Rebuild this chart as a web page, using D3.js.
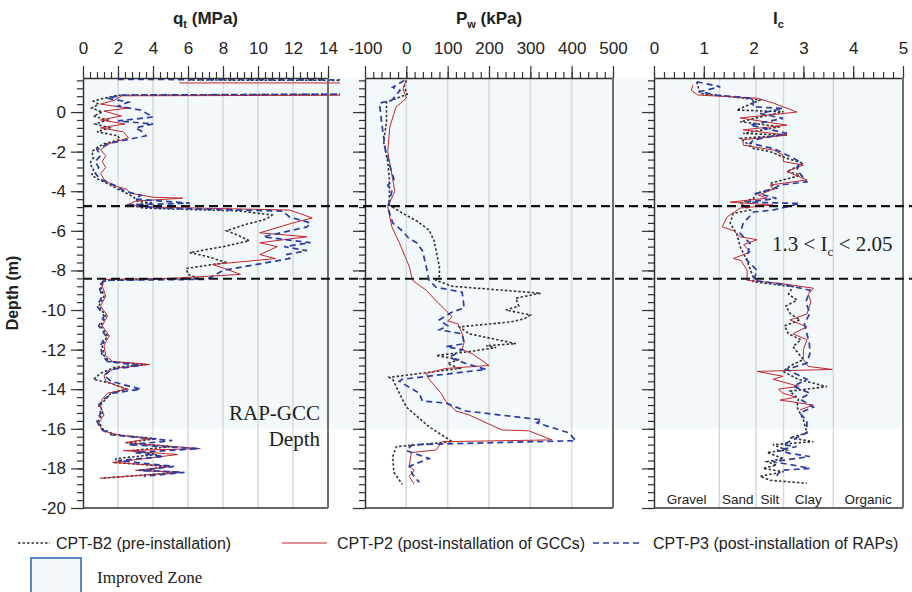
<!DOCTYPE html>
<html>
<head>
<meta charset="utf-8">
<script src="https://cdn.jsdelivr.net/npm/d3@7/dist/d3.min.js"></script>
<style>
  body { margin: 0; background: #fff; }
  text { font-family: "Liberation Sans", Arial, sans-serif; fill: #222; }
  .serif { font-family: "Liberation Serif", "Times New Roman", serif; }
</style>
</head>
<body>
<svg id="chart" width="912" height="592"></svg>
<script>
// ---- data: [depth (m), value] ----
const qtB2 = [[1.62,6.0],[1.6,15],[0.9,15],[0.85,2.0],[0.7,1.2],[0.55,0.6],[0.4,0.9],[0.2,0.5],[0.0,1.1],[-0.2,0.6],[-0.4,1.4],[-0.6,0.7],[-0.8,1.5],[-1.0,0.8],[-1.2,2.0],[-1.4,2.1],[-1.6,1.2],[-1.8,0.8],[-2.0,0.5],[-2.3,0.6],[-2.6,0.4],[-2.9,0.6],[-3.2,0.5],[-3.4,0.9],[-3.7,1.6],[-3.9,2.0],[-4.1,2.5],[-4.3,2.9],[-4.5,3.1],[-4.6,4.0],[-4.7,2.6],[-4.85,3.5],[-5.0,9.0],[-5.2,10.8],[-5.4,10.5],[-5.7,9.2],[-6.0,8.2],[-6.2,8.8],[-6.5,9.5],[-6.8,8.0],[-7.1,6.1],[-7.3,7.1],[-7.6,8.2],[-7.9,5.9],[-8.2,6.0],[-8.4,6.6],[-8.5,1.3],[-8.8,1.0],[-9.3,1.2],[-9.8,0.9],[-10.3,1.3],[-10.8,1.0],[-11.3,1.4],[-11.8,1.1],[-12.3,1.2],[-12.6,1.5],[-12.75,3.6],[-12.9,1.8],[-13.2,1.0],[-13.5,0.6],[-13.7,1.6],[-14.0,2.5],[-14.2,1.6],[-14.5,1.3],[-14.8,1.0],[-15.2,1.1],[-15.6,0.9],[-16.0,1.1],[-16.3,1.8],[-16.5,4.2],[-16.7,2.5],[-16.9,5.0],[-17.1,2.8],[-17.3,4.2],[-17.5,1.9],[-17.7,1.8],[-17.9,4.8],[-18.1,3.5],[-18.2,5.5],[-18.5,1.0]];
const qtP2 = [[1.47,5.5],[1.47,15],[0.85,15],[0.82,2.2],[0.6,1.8],[0.4,1.0],[0.2,2.6],[0.05,1.2],[-0.2,2.2],[-0.4,1.0],[-0.6,2.4],[-0.8,1.0],[-1.0,2.3],[-1.3,2.6],[-1.6,1.5],[-1.9,1.0],[-2.2,1.3],[-2.5,1.1],[-2.8,1.3],[-3.1,1.0],[-3.4,1.2],[-3.7,1.7],[-3.9,2.5],[-4.1,2.7],[-4.3,4.0],[-4.35,5.7],[-4.5,3.0],[-4.7,2.5],[-4.8,4.0],[-4.95,11.8],[-5.1,12.3],[-5.35,13.1],[-5.6,12.0],[-6.1,10.1],[-6.3,12.8],[-6.6,10.1],[-6.8,11.1],[-7.2,10.1],[-7.4,11.0],[-7.7,7.4],[-8.0,8.4],[-8.2,9.0],[-8.4,5.0],[-8.45,1.2],[-8.8,1.1],[-9.3,1.3],[-9.8,1.0],[-10.3,1.4],[-10.8,1.1],[-11.3,1.5],[-11.8,1.2],[-12.3,1.3],[-12.6,1.7],[-12.75,3.8],[-12.95,1.8],[-13.3,1.2],[-13.6,1.3],[-14.0,2.5],[-14.2,1.4],[-14.5,1.1],[-14.9,1.0],[-15.3,1.2],[-15.7,0.9],[-16.1,1.1],[-16.3,2.0],[-16.5,3.8],[-16.7,2.4],[-17.0,6.7],[-17.1,2.3],[-17.3,5.4],[-17.7,1.7],[-17.9,5.1],[-18.1,3.0],[-18.2,5.6],[-18.5,1.0]];
const qtP3 = [[1.65,2.0],[1.62,15],[0.9,15],[0.86,2.3],[0.7,1.4],[0.5,2.6],[0.3,2.0],[0.1,3.3],[-0.25,4.0],[-0.45,2.0],[-0.6,4.0],[-0.8,3.0],[-1.0,3.4],[-1.2,3.6],[-1.4,2.5],[-1.6,1.4],[-1.9,0.8],[-2.2,1.0],[-2.5,0.7],[-2.8,0.9],[-3.1,0.7],[-3.4,1.0],[-3.7,1.8],[-4.0,2.4],[-4.2,3.3],[-4.4,3.0],[-4.6,6.1],[-4.7,2.4],[-4.85,4.5],[-5.0,11.4],[-5.3,11.8],[-5.6,13.0],[-5.8,12.8],[-6.3,10.3],[-6.6,13.0],[-6.8,11.5],[-7.0,12.8],[-7.2,11.6],[-7.4,11.8],[-8.0,8.0],[-8.45,7.1],[-8.5,1.2],[-8.8,0.9],[-9.3,1.1],[-9.8,0.8],[-10.3,1.2],[-10.8,0.9],[-11.3,1.3],[-11.8,1.0],[-12.3,1.1],[-12.6,1.4],[-12.8,3.3],[-13.0,1.6],[-13.3,1.2],[-13.6,1.6],[-14.0,3.3],[-14.2,1.7],[-14.5,1.2],[-14.8,0.9],[-15.2,1.0],[-15.6,0.8],[-16.0,1.0],[-16.3,1.6],[-16.6,5.1],[-16.8,2.6],[-17.0,6.6],[-17.2,3.0],[-17.4,4.6],[-17.6,2.0],[-17.9,5.2],[-18.1,3.2],[-18.2,5.8],[-18.4,3.5]];

const pwB2 = [[1.6,0],[1.3,-5],[0.9,2],[0.5,-48],[-0.5,-48],[-1.5,-55],[-2.5,-45],[-3.4,-41],[-4.7,-41],[-5.1,-10],[-5.5,25],[-5.96,55],[-6.5,67],[-7.3,75],[-7.8,80],[-8.3,80],[-8.5,72],[-8.8,111],[-9.15,325],[-9.4,265],[-9.8,272],[-10.0,241],[-10.25,300],[-10.45,285],[-10.6,253],[-10.85,128],[-11.2,152],[-11.7,265],[-11.8,193],[-11.9,217],[-12.1,152],[-12.3,72],[-12.5,128],[-12.7,100],[-12.95,128],[-13.4,-41],[-13.5,-33],[-14.2,-17],[-14.9,0],[-15.9,55],[-16.65,111],[-16.9,-24],[-17.4,-33],[-18.2,-30],[-18.8,-10]];
const pwP2 = [[1.6,0],[1.2,-8],[0.7,0],[0.25,-25],[-0.75,-40],[-2.0,-45],[-3.4,-33],[-4.0,-28],[-4.8,-45],[-5.8,-35],[-6.6,-17],[-7.8,7],[-8.5,15],[-9.0,48],[-9.6,75],[-9.9,90],[-10.35,111],[-10.55,100],[-10.7,125],[-11.2,135],[-11.6,140],[-12.0,135],[-12.2,159],[-12.8,200],[-12.95,96],[-13.2,48],[-13.5,55],[-14.2,84],[-14.6,95],[-15.1,120],[-15.3,152],[-16.06,231],[-16.1,296],[-16.56,352],[-16.65,87],[-17.07,72],[-17.2,12],[-17.9,7],[-18.1,20],[-18.4,7],[-18.8,19]];
const pwP3 = [[1.6,-5],[1.25,-33],[1.1,-15],[0.6,-35],[0.45,-65],[-0.5,-60],[-0.8,-58],[-2.0,-50],[-3.4,-30],[-3.7,-45],[-4.0,-35],[-4.8,-45],[-5.6,-33],[-6.0,-10],[-6.4,7],[-6.6,25],[-7.0,39],[-7.8,48],[-8.5,55],[-8.85,72],[-9.1,135],[-9.9,140],[-10.1,111],[-10.5,80],[-10.8,100],[-11.0,80],[-11.2,135],[-11.7,140],[-11.85,96],[-12.0,135],[-12.4,104],[-12.7,144],[-13.0,193],[-13.5,-10],[-13.6,-17],[-14.2,31],[-14.6,39],[-14.7,96],[-15.1,144],[-15.55,328],[-15.7,316],[-16.2,393],[-16.6,410],[-16.8,15],[-17.1,0],[-17.5,55],[-17.9,7],[-18.3,15],[-18.7,31]];

const icB2 = [[1.53,0.86],[0.94,0.92],[0.61,2.13],[0.1,1.66],[0.02,2.6],[-0.49,1.73],[-0.74,2.53],[-1.08,1.79],[-1.16,2.67],[-1.33,1.73],[-1.84,2.0],[-2.0,2.33],[-2.34,2.67],[-2.59,3.0],[-3.01,2.67],[-3.18,2.97],[-3.6,2.33],[-3.86,2.46],[-4.1,2.06],[-4.36,2.0],[-4.61,1.73],[-4.95,1.93],[-5.12,1.59],[-5.62,1.53],[-6.13,1.66],[-6.8,1.73],[-7.47,1.86],[-8.32,1.99],[-8.57,1.99],[-8.82,2.79],[-9.2,2.7],[-9.5,2.87],[-9.8,2.65],[-10.17,2.73],[-10.5,2.93],[-10.8,2.62],[-11.2,2.7],[-11.5,2.95],[-11.85,2.79],[-12.2,2.9],[-12.5,3.0],[-12.8,2.75],[-13.1,2.59],[-13.5,2.9],[-13.87,3.47],[-14.1,2.73],[-14.5,2.9],[-14.9,2.87],[-15.55,3.0],[-16.2,3.07],[-16.45,2.73],[-16.65,3.2],[-16.8,2.39],[-17.07,2.66],[-17.2,2.27],[-17.5,2.6],[-17.66,2.27],[-17.83,2.46],[-18.0,2.19],[-18.17,2.6],[-18.4,2.13],[-18.6,2.33],[-18.75,3.07]];
const icP2 = [[1.36,0.78],[1.1,0.75],[0.86,0.88],[0.7,2.07],[0.45,2.4],[0.0,2.87],[-0.3,1.73],[-0.66,2.67],[-0.9,1.79],[-1.16,2.67],[-1.4,1.79],[-1.67,1.79],[-1.92,2.4],[-2.17,2.59],[-2.5,2.6],[-2.68,3.0],[-3.0,2.67],[-3.43,3.07],[-3.69,2.33],[-3.9,2.39],[-4.2,2.1],[-4.35,2.27],[-4.55,1.53],[-4.7,2.39],[-4.85,1.73],[-5.3,1.47],[-5.8,1.37],[-6.0,1.6],[-6.3,1.73],[-6.45,2.07],[-6.7,1.8],[-7.07,1.93],[-7.4,1.59],[-7.5,1.75],[-8.0,1.87],[-8.5,1.87],[-8.65,2.53],[-8.9,3.2],[-9.2,3.1],[-9.6,3.15],[-10.2,3.07],[-10.5,2.73],[-10.85,3.07],[-11.2,2.79],[-11.5,3.07],[-12.0,3.0],[-12.5,3.0],[-12.85,3.1],[-13.0,3.58],[-13.1,2.07],[-13.35,2.59],[-13.5,2.39],[-13.85,2.9],[-14.0,2.5],[-14.2,2.59],[-14.4,2.85],[-14.55,2.53],[-14.8,3.2],[-15.05,2.93]];
const icP3 = [[1.53,0.86],[1.28,1.33],[1.03,0.92],[0.86,1.26],[0.69,1.99],[0.27,1.99],[0.18,2.59],[-0.07,2.13],[-0.32,2.59],[-0.66,1.93],[-1.08,2.67],[-1.41,2.0],[-1.58,1.93],[-1.84,2.4],[-2.17,2.67],[-2.5,2.93],[-2.93,2.87],[-3.52,3.07],[-3.69,2.53],[-3.86,2.4],[-4.1,2.06],[-4.36,2.46],[-4.55,1.86],[-4.62,2.93],[-4.95,2.39],[-5.05,2.0],[-5.62,1.79],[-6.13,1.73],[-6.63,1.93],[-7.47,1.86],[-8.0,2.07],[-8.5,2.0],[-8.74,2.66],[-9.0,3.13],[-9.6,3.05],[-10.17,3.13],[-10.7,3.02],[-11.2,3.07],[-11.7,3.12],[-12.2,3.13],[-12.68,3.07],[-13.0,2.67],[-13.5,3.07],[-13.85,2.8],[-14.2,3.13],[-14.5,2.93],[-14.9,3.2],[-15.2,2.93],[-15.6,3.07],[-16.2,3.07],[-16.8,2.59],[-16.9,2.86],[-17.07,2.47],[-17.24,2.73],[-17.4,3.13],[-17.66,2.39],[-17.83,2.79],[-18.0,3.13],[-18.1,2.53],[-18.4,2.46]];

const depthTicks = [-20,-18,-16,-14,-12,-10,-8,-6,-4,-2,0];
const qtTicks = [0,2,4,6,8,10,12,14];
const pwTicks = [-100,0,100,200,300,400,500];
const icTicks = [0,1,2,3,4,5];
const icBounds = [1.31,2.05,2.6,3.6];
const soilNames = ["Gravel","Sand","Silt","Clay","Organic"];
const zoneLines = [-4.75,-8.42];
const improvedBottom = -16;
const seriesNames = ["CPT-B2 (pre-installation)","CPT-P2 (post-installation of GCCs)","CPT-P3 (post-installation of RAPs)"];

// ---- layout ----
const svg = d3.select("#chart");
const plotTop = 78, plotBottom = 508;
const y = d3.scaleLinear().domain([-20, 1.72]).range([plotBottom, plotTop]);

const styles = [
  {stroke: "#333", width: 1.6, dash: "2.5,2"},
  {stroke: "#c1272d", width: 1, dash: null},
  {stroke: "#2a3ca6", width: 1.7, dash: "6,4"}
];

const panels = [
  {x: d3.scaleLinear().domain([0,14]).range([83,328]), ticks: qtTicks, minor: 0.4, grid: qtTicks.slice(1,-1),
   data: [qtB2,qtP2,qtP3], clipR: 340, title: ["q","t"," (MPa)"]},
  {x: d3.scaleLinear().domain([-100,500]).range([365,613]), ticks: pwTicks, minor: 20, grid: pwTicks.slice(1,-1),
   data: [pwB2,pwP2,pwP3], clipR: 613, title: ["P","w"," (kPa)"]},
  {x: d3.scaleLinear().domain([0,5]).range([654,903]), ticks: icTicks, minor: 0.2, grid: icBounds,
   data: [icB2,icP2,icP3], clipR: 903, title: ["I","c",""]}
];

// improved zone shading
svg.append("rect")
  .attr("x", 83).attr("y", plotTop)
  .attr("width", 903 - 83).attr("height", y(improvedBottom) - plotTop)
  .attr("fill", "#f3f8fa");

const defs = svg.append("defs");

panels.forEach((p, i) => {
  const [x0, x1] = p.x.range();
  const g = svg.append("g");

  // grid
  g.selectAll(".grid").data(p.grid).join("line")
    .attr("x1", d => p.x(d)).attr("x2", d => p.x(d))
    .attr("y1", plotTop).attr("y2", plotBottom)
    .attr("stroke", "#d5dadd").attr("stroke-width", 1.5);

  // lines
  defs.append("clipPath").attr("id", "clip" + i)
    .append("rect").attr("x", x0).attr("y", plotTop - 2)
    .attr("width", p.clipR - x0).attr("height", plotBottom - plotTop + 2);

  const line = d3.line().x(d => p.x(d[1])).y(d => y(d[0]));
  p.data.forEach((s, k) => {
    g.append("path").datum(s)
      .attr("d", line)
      .attr("fill", "none")
      .attr("stroke", styles[k].stroke)
      .attr("stroke-width", styles[k].width)
      .attr("stroke-dasharray", styles[k].dash)
      .attr("clip-path", "url(#clip" + i + ")");
  });

  // top axis: minor then major
  const dom = p.x.domain();
  const minorVals = d3.range(dom[0], dom[1] + p.minor / 2, p.minor);
  g.append("g").attr("transform", `translate(0,${plotTop})`)
    .call(d3.axisTop(p.x).tickValues(minorVals).tickSize(6).tickFormat(""))
    .call(a => a.select(".domain").remove());
  g.append("g").attr("transform", `translate(0,${plotTop})`)
    .call(d3.axisTop(p.x).tickValues(p.ticks).tickSize(12).tickPadding(12).tickSizeOuter(0).tickFormat(d => String(d)))
    .call(a => a.selectAll("text").attr("font-size", 17).attr("fill", "#222"));

  // left axis
  const yMinor = d3.range(-20, 1.7, 0.4);
  g.append("g").attr("transform", `translate(${x0},0)`)
    .call(d3.axisLeft(y).tickValues(yMinor).tickSize(6).tickFormat(""))
    .call(a => a.select(".domain").remove());
  const la = g.append("g").attr("transform", `translate(${x0},0)`)
    .call(d3.axisLeft(y).tickValues(depthTicks).tickSize(12).tickSizeOuter(0)
      .tickFormat(i === 0 ? d => String(d) : ""));
  la.selectAll("text").attr("font-size", 17).attr("fill", "#222").attr("dx", -2);

  g.selectAll(".domain").attr("stroke", "#333").attr("stroke-width", 1.5);
  g.selectAll(".tick line").attr("stroke", "#333").attr("stroke-width", 1.2);

  // bottom and right frame
  g.append("line").attr("x1", x0).attr("x2", x1).attr("y1", plotBottom).attr("y2", plotBottom)
    .attr("stroke", "#333").attr("stroke-width", 1.5);
  g.append("line").attr("x1", x1).attr("x2", x1).attr("y1", plotTop).attr("y2", plotBottom)
    .attr("stroke", "#6d6d6d").attr("stroke-width", 2);

  // title
  const t = svg.append("text").attr("x", (x0 + x1) / 2).attr("y", 24)
    .attr("text-anchor", "middle").attr("font-size", 17).attr("font-weight", "bold");
  t.append("tspan").text(p.title[0]);
  t.append("tspan").text(p.title[1]).attr("font-size", 11).attr("dy", 4);
  if (p.title[2]) t.append("tspan").text(p.title[2]).attr("dy", -4);
});

// soil type labels between Ic boundaries
const xIc = panels[2].x;
const edges = [0].concat(icBounds, [5]);
svg.selectAll(".soil").data(soilNames).join("text")
  .attr("x", (d, i) => xIc((edges[i] + edges[i + 1]) / 2))
  .attr("y", 504)
  .attr("text-anchor", "middle").attr("font-size", 13.5)
  .text(d => d);

// zone boundary lines
svg.selectAll(".zone").data(zoneLines).join("line")
  .attr("x1", 83).attr("x2", 912)
  .attr("y1", d => y(d)).attr("y2", d => y(d))
  .attr("stroke", "#111").attr("stroke-width", 2.2).attr("stroke-dasharray", "9,5");

// annotations
svg.append("text").attr("class", "serif").attr("x", 320).attr("y", y(-15.55))
  .attr("text-anchor", "end").attr("font-size", 21).text("RAP-GCC");
svg.append("text").attr("class", "serif").attr("x", 320).attr("y", y(-16.85))
  .attr("text-anchor", "end").attr("font-size", 21).text("Depth");
const ann = svg.append("text").attr("class", "serif").attr("x", 772).attr("y", y(-7.0))
  .attr("font-size", 21);
ann.append("tspan").text("1.3 < I");
ann.append("tspan").text("c").attr("font-size", 13).attr("dy", 5);
ann.append("tspan").text(" < 2.05").attr("dy", -5);

// y-axis label
svg.append("text")
  .attr("transform", `translate(18,${(plotTop + plotBottom) / 2}) rotate(-90)`)
  .attr("text-anchor", "middle").attr("font-size", 16).attr("font-weight", "bold")
  .text("Depth (m)");

// legend
const legX = [[18, 50, 56], [282, 327, 337], [593, 640, 653]];
seriesNames.forEach((name, k) => {
  svg.append("line").attr("x1", legX[k][0]).attr("x2", legX[k][1])
    .attr("y1", 543).attr("y2", 543)
    .attr("stroke", styles[k].stroke).attr("stroke-width", styles[k].width)
    .attr("stroke-dasharray", styles[k].dash);
  svg.append("text").attr("x", legX[k][2]).attr("y", 549)
    .attr("font-size", 16).text(name);
});
svg.append("rect").attr("x", 31).attr("y", 558).attr("width", 50).attr("height", 40)
  .attr("fill", "#f3f8fa").attr("stroke", "#5b85c6").attr("stroke-width", 2);
svg.append("text").attr("class", "serif").attr("x", 97).attr("y", 583)
  .attr("font-size", 17).text("Improved Zone");
</script>
</body>
</html>
